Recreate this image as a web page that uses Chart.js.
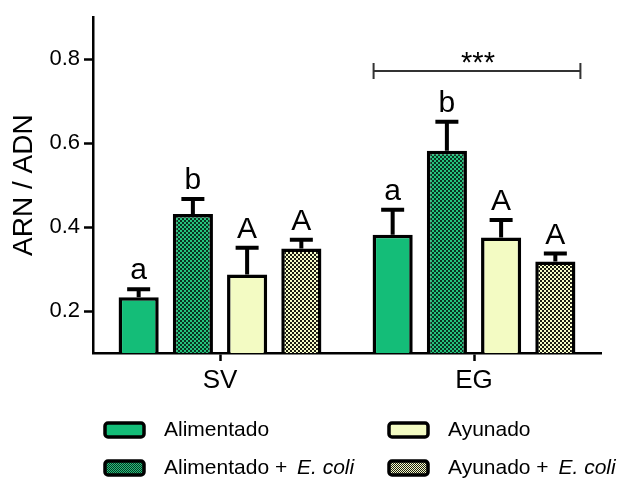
<!DOCTYPE html>
<html lang="es">
<head>
<meta charset="UTF-8">
<title>ARN / ADN</title>
<script src="https://cdn.jsdelivr.net/npm/chart.js"></script>
<style>
    body {
        margin: 0;
        background: #fff;
    }
    #wrap {
        width: 626px;
        height: 481px;
    }
</style>
</head>
<body>
<div id="wrap"><canvas id="rnaChart" width="626" height="481"></canvas></div>
<script>
const groups = ['SV', 'EG'];
const seriesNames = ['Alimentado', 'Alimentado + E. coli', 'Ayunado', 'Ayunado + E. coli'];

const alimentado = [0.233, 0.382];
const alimentadoEcoli = [0.431, 0.582];
const ayunado = [0.287, 0.375];
const ayunadoEcoli = [0.349, 0.318];

const errAlimentado = [0.019, 0.059];
const errAlimentadoEcoli = [0.036, 0.069];
const errAyunado = [0.064, 0.042];
const errAyunadoEcoli = [0.021, 0.019];

const lettersAlimentado = ['a', 'a'];
const lettersAlimentadoEcoli = ['b', 'b'];
const lettersAyunado = ['A', 'A'];
const lettersAyunadoEcoli = ['A', 'A'];

const yTicks = [0.2, 0.4, 0.6, 0.8];
const starsText = '***';
const starsGroup = 1;
const bracketValue = 0.772;

const FONT = '"Liberation Sans", Arial, sans-serif';
const green = '#14bd78';
const paleYellow = '#f3fbc3';

function checker(base, dots, cell) {
    const c = document.createElement('canvas');
    c.width = cell * 2;
    c.height = cell * 2;
    const g = c.getContext('2d');
    g.fillStyle = base;
    g.fillRect(0, 0, c.width, c.height);
    g.fillStyle = dots;
    g.fillRect(0, 0, cell, cell);
    g.fillRect(cell, cell, cell, cell);
    return g.createPattern(c, 'repeat');
}

const ctx = document.getElementById('rnaChart').getContext('2d');
const fills = [green, checker('#24c47e', '#0a3320', 2), paleYellow, checker('#f6fcc8', '#1c1c12', 2)];
const legendFills = [green, checker('#24c47e', '#0a3320', 1), paleYellow, checker('#f6fcc8', '#1c1c12', 1)];

const values = [alimentado, alimentadoEcoli, ayunado, ayunadoEcoli];
const errors = [errAlimentado, errAlimentadoEcoli, errAyunado, errAyunadoEcoli];
const letters = [lettersAlimentado, lettersAlimentadoEcoli, lettersAyunado, lettersAyunadoEcoli];

// error bars, letters, bracket and legend drawn on top of the bars
const extras = {
    id: 'extras',
    afterDatasetsDraw(chart) {
        const c = chart.ctx;
        const y = chart.scales.y;
        c.save();
        c.strokeStyle = '#000';
        c.fillStyle = '#000';
        values.forEach((vals, i) => {
            const meta = chart.getDatasetMeta(i);
            meta.data.forEach((bar, j) => {
                const top = y.getPixelForValue(vals[j]);
                const capY = y.getPixelForValue(vals[j] + errors[i][j]);
                c.lineWidth = 4;
                c.beginPath();
                c.moveTo(bar.x, top);
                c.lineTo(bar.x, capY);
                c.moveTo(bar.x - 11.5, capY);
                c.lineTo(bar.x + 11.5, capY);
                c.stroke();
                c.font = '30px ' + FONT;
                c.textAlign = 'center';
                c.textBaseline = 'alphabetic';
                c.fillText(letters[i][j], bar.x, capY - 10);
            });
        });

        // significance bracket over EG
        const first = chart.getDatasetMeta(0).data[starsGroup];
        const last = chart.getDatasetMeta(values.length - 1).data[starsGroup];
        const x1 = first.x - first.width / 2 + 1;
        const x2 = last.x + last.width / 2 + 5;
        const by = y.getPixelForValue(bracketValue);
        c.strokeStyle = '#333';
        c.lineWidth = 2;
        c.beginPath();
        c.moveTo(x1, by);
        c.lineTo(x2, by);
        c.moveTo(x1, by - 8);
        c.lineTo(x1, by + 8);
        c.moveTo(x2, by - 8);
        c.lineTo(x2, by + 8);
        c.stroke();
        c.font = '29px ' + FONT;
        c.textAlign = 'center';
        c.fillText(starsText, (x1 + x2) / 2 + 1, by + 1);
        c.restore();
    },
    afterDraw(chart) {
        const c = chart.ctx;
        const cols = [105, 389];
        const rows = [430, 468];
        c.save();
        seriesNames.forEach((name, i) => {
            const col = Math.floor(i / 2);
            const row = i % 2;
            const x = cols[col];
            const yy = rows[row];
            c.beginPath();
            c.roundRect(x, yy - 7, 39, 14, 3);
            c.fillStyle = legendFills[i];
            c.fill();
            c.lineWidth = 3.5;
            c.strokeStyle = '#000';
            c.stroke();

            c.fillStyle = '#000';
            c.textAlign = 'left';
            c.textBaseline = 'middle';
            let tx = x + 59;
            const parts = name.split('E. coli');
            c.font = '21px ' + FONT;
            c.fillText(parts[0], tx, yy);
            if (parts.length > 1) {
                tx += c.measureText(parts[0]).width + 4;
                c.font = 'italic 21px ' + FONT;
                c.fillText('E. coli', tx, yy);
            }
        });
        c.restore();
    }
};

new Chart(ctx, {
    type: 'bar',
    data: {
        labels: groups,
        datasets: seriesNames.map((name, i) => ({
            label: name,
            data: values[i],
            backgroundColor: fills[i],
            borderColor: '#000',
            borderWidth: 3.5,
            categoryPercentage: 0.854,
            barPercentage: 0.74
        }))
    },
    options: {
        responsive: false,
        animation: false,
        layout: {
            padding: { top: 15, right: 25, left: 0, bottom: 0 }
        },
        plugins: {
            legend: { display: false },
            tooltip: { enabled: false }
        },
        scales: {
            x: {
                afterFit(scale) { scale.height = 128; },
                grid: {
                    offset: false,
                    drawOnChartArea: false,
                    tickLength: 8,
                    tickColor: '#000',
                    tickWidth: 2.5
                },
                border: { color: '#000', width: 2.5 },
                ticks: {
                    color: '#000',
                    padding: 4,
                    font: { family: FONT, size: 26 }
                }
            },
            y: {
                min: 0.1,
                max: 0.9,
                afterFit(scale) { scale.width = 93; },
                afterBuildTicks(scale) {
                    scale.ticks = yTicks.map(v => ({ value: v }));
                },
                grid: {
                    drawOnChartArea: false,
                    tickLength: 9,
                    tickColor: '#000',
                    tickWidth: 2.5
                },
                border: { color: '#000', width: 2.5 },
                ticks: {
                    color: '#000',
                    padding: 4,
                    font: { family: FONT, size: 22 },
                    callback: v => v.toFixed(1)
                },
                title: {
                    display: true,
                    text: 'ARN / ADN',
                    color: '#000',
                    padding: { top: 7, bottom: 0 },
                    font: { family: FONT, size: 28 }
                }
            }
        }
    },
    plugins: [extras]
});
</script>
</body>
</html>
